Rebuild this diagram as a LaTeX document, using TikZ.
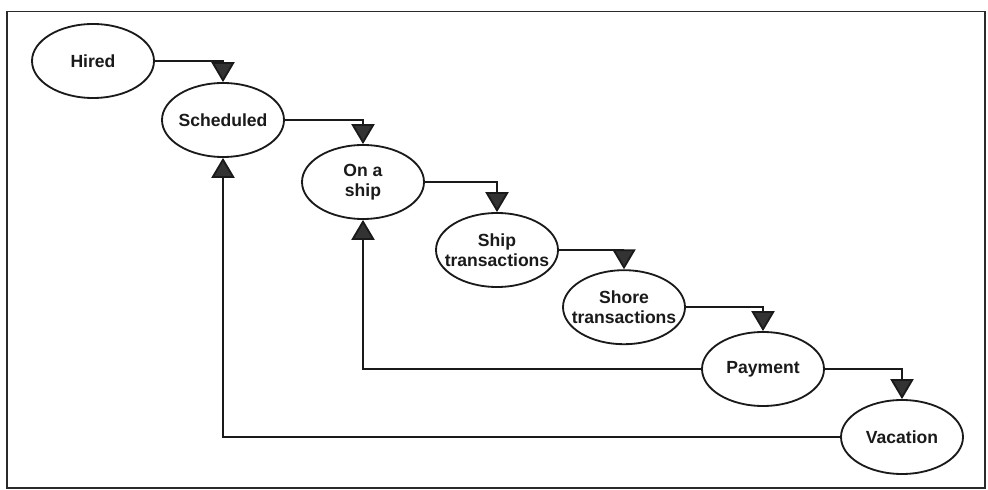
\documentclass[tikz,border=0pt]{standalone}
\usepackage{fontspec}
\setmainfont{Liberation Sans}
\usepackage{xcolor}
\usepackage{tikz}
\usetikzlibrary{shapes.geometric,arrows.meta}
\definecolor{cline}{HTML}{1A1A1A}
\definecolor{chead}{HTML}{333333}
\definecolor{cframe}{HTML}{2A2A2A}
\tikzset{
  stage/.style={draw=cline,fill=white,ellipse,line width=1.3pt,
    minimum width=3.05cm,minimum height=1.85cm,inner xsep=-0.3cm,inner ysep=0pt,
    font=\bfseries\fontsize{12.5}{14.5}\selectfont,align=center,text=cline},
  flow/.style={draw=cline,line width=1.3pt,
    -{Triangle[width=0.58cm,length=0.5cm,fill=chead]}}
}

\begin{document}
\begin{tikzpicture}
  \useasboundingbox (0,0) rectangle (24.7,-12.25);
  \draw[cframe,line width=1.1pt] (0.18,-0.29) rectangle (24.62,-12.2);
  \node[stage] (hired) at (2.325,-1.525) {Hired};
  \node[stage] (sched) at (5.575,-3.0) {Scheduled};
  \node[stage] (onship) at (9.075,-4.55) {On a\\ship};
  \node[stage] (shiptr) at (12.425,-6.25) {Ship\\transactions};
  \node[stage] (shoretr) at (15.6,-7.68) {Shore\\transactions};
  \node[stage] (pay) at (19.075,-9.225) {Payment};
  \node[stage] (vac) at (22.55,-10.925) {Vacation};
  % forward steps
  \draw[flow] (hired.east) -| (sched.north);
  \draw[flow] (sched.east) -| (onship.north);
  \draw[flow] (onship.east) -| (shiptr.north);
  \draw[flow] (shiptr.east) -| (shoretr.north);
  \draw[flow] (shoretr.east) -| (pay.north);
  \draw[flow] (pay.east) -| (vac.north);
  % going back
  \draw[flow] (pay.west) -| (onship.south);
  \draw[flow] (vac.west) -| (sched.south);
\end{tikzpicture}
\end{document}
